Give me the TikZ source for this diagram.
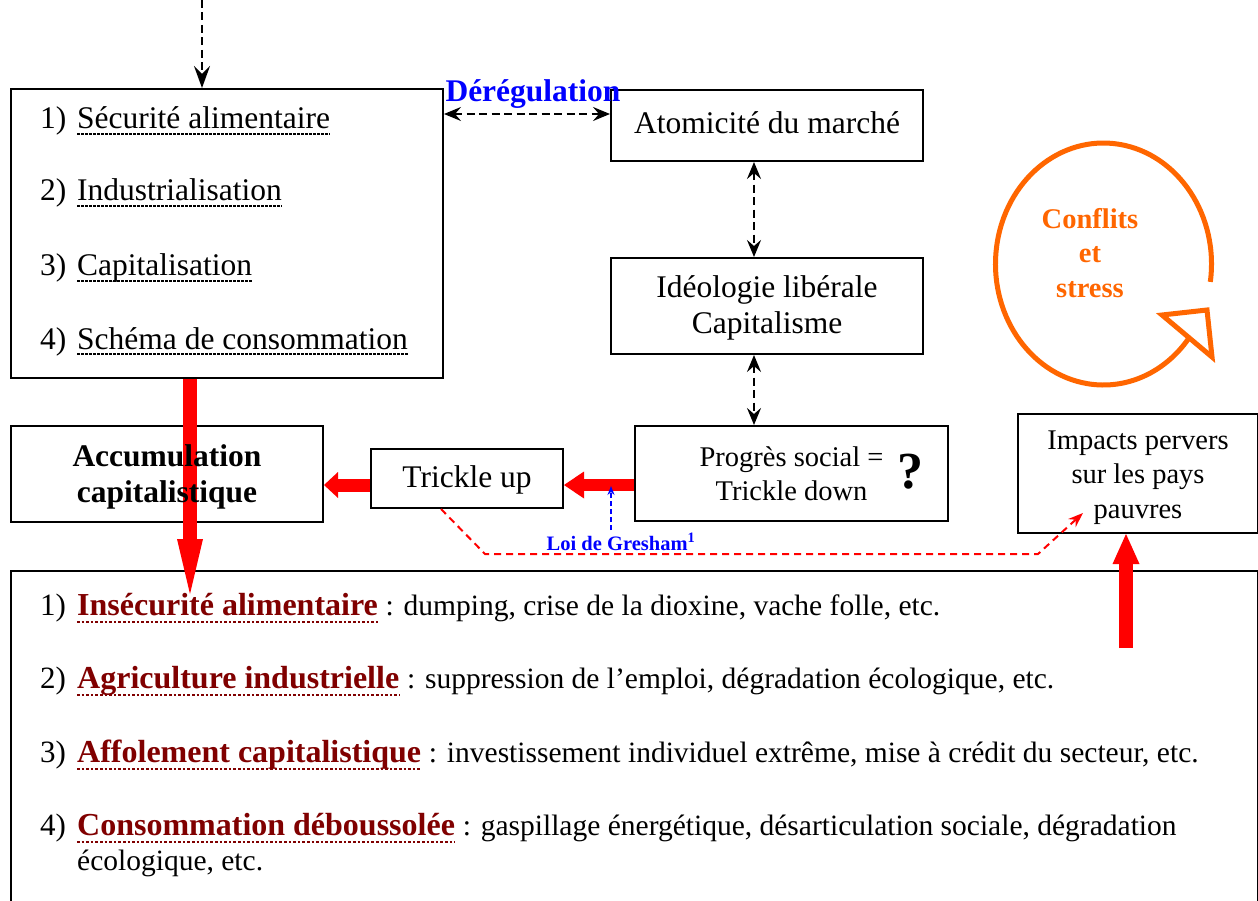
\documentclass[tikz,border=0pt]{standalone}
\usepackage{fontspec}
\setmainfont{Liberation Serif}
\usetikzlibrary{arrows.meta}
\definecolor{dred}{RGB}{128,0,0}
\definecolor{orng}{RGB}{255,102,0}
\definecolor{blu}{RGB}{0,0,255}
\definecolor{rd}{RGB}{255,0,0}
\begin{document}
\begin{tikzpicture}[x=1pt,y=-1pt,
  box/.style={draw, line width=2pt, inner sep=0pt, anchor=north west},
  fm/.style={font=\fontsize{31.5}{36}\selectfont},
  fb/.style={font=\bfseries\fontsize{31.5}{36}\selectfont},
  fgb/.style={font=\bfseries\fontsize{32}{36}\selectfont},
  fs/.style={font=\fontsize{28.5}{34.5}\selectfont},
  fg/.style={font=\fontsize{29.5}{34}\selectfont},
  itm/.style={inner sep=0pt, anchor=base west},
  uline/.style={line width=1.2pt, dash pattern=on 2.5pt off 1.5pt},
  rline/.style={dred, line width=2.6pt, dash pattern=on 2.6pt off 2pt},
  darrow/.style={line width=2pt, dash pattern=on 8pt off 4.5pt},
  redarrow/.style={rd, line width=#1},
]
\useasboundingbox (0,0) rectangle (1258,901);
\fill[white] (0,0) rectangle (1258,901);

% boxes
\node[box, minimum width=432pt, minimum height=289pt] (A) at (10,88) {};
\node[box, minimum width=312pt, minimum height=71pt] (B) at (610,89) {};
\node[box, minimum width=312pt, minimum height=96pt] (C) at (610,257) {};
\node[box, minimum width=313pt, minimum height=95pt] (D) at (634,425) {};
\node[box, minimum width=192pt, minimum height=59pt] (E) at (370,448) {};
\node[box, minimum width=312pt, minimum height=96pt] (F) at (10,425) {};
\node[box, minimum width=240pt, minimum height=119pt] (H) at (1017,413) {};
\node[box, minimum width=1247pt, minimum height=350pt] (G) at (10,570) {};

% box texts
\node[inner sep=0pt, fm] (Bt) at ([yshift=3pt]B.center) {Atomicité du marché};
\node[inner sep=0pt, fm, align=center] (Ct) at ([yshift=-2pt]C.center) {Idéologie libérale\\Capitalisme};
\node[inner sep=0pt, fs, align=center] (Dt) at (D.center) {Progrès social =\\Trickle down};
\node[inner sep=0pt, fm] (Et) at ([yshift=-1pt]E.center) {Trickle up};
\node[inner sep=0pt, fs, align=center] (Ht) at ([yshift=-4pt]H.center) {Impacts pervers\\sur les pays\\pauvres};

% question mark
\node[inner sep=0pt, anchor=base, font=\bfseries\fontsize{52}{56}\selectfont] (q) at (910,488) {?};

% list in A
\node[itm, fm] (a1n) at (40,129) {1)};
\node[itm, fm] (a1) at (77,129) {Sécurité alimentaire};
\node[itm, fm] (a2n) at (40,201) {2)};
\node[itm, fm] (a2) at (77,201) {Industrialisation};
\node[itm, fm] (a3n) at (40,276) {3)};
\node[itm, fm] (a3) at (77,276) {Capitalisation};
\node[itm, fm] (a4n) at (40,349) {4)};
\node[itm, fm] (a4) at (77,349) {Schéma de consommation};
\foreach \n in {a1,a2,a3,a4}
  \draw[uline] ([yshift=-5pt]\n.base west) -- ([yshift=-5pt]\n.base east);

% Dérégulation
\node[inner sep=0pt, anchor=base, font=\bfseries\fontsize{31.5}{36}\selectfont, text=blu] (dereg) at (533,102) {Dérégulation};

% dashed black arrows
\coordinate (top) at (202,0);
\coordinate (dy) at (0,114);
\coordinate (vx) at (754,0);
\draw[darrow, -{Stealth[length=22pt,width=16pt,inset=8pt]}] (top) -- (top |- A.north);
\draw[darrow, {Stealth[length=17pt,width=14pt,inset=6pt]}-{Stealth[length=17pt,width=14pt,inset=6pt]}] (A.east |- dy) -- (B.west |- dy);
\draw[darrow, {Stealth[length=17pt,width=14pt,inset=6pt]}-{Stealth[length=17pt,width=14pt,inset=6pt]}] (vx |- B.south) -- (vx |- C.north);
\draw[darrow, {Stealth[length=17pt,width=14pt,inset=6pt]}-{Stealth[length=17pt,width=14pt,inset=6pt]}] (vx |- C.south) -- (vx |- D.north);

% red arrows
\coordinate (ry) at (0,485);
\coordinate (bx) at (190,0);
\coordinate (gtip) at (190,594);
\coordinate (hx) at (1126,648);
\draw[redarrow=14pt, -{Triangle[length=55pt,width=26pt,line width=0pt]}] (bx |- A.south) -- (gtip);
\draw[redarrow=12pt, -{Triangle[length=20pt,width=27pt,line width=0pt]}] (D.west |- ry) -- (E.east |- ry);
\draw[redarrow=13pt, -{Triangle[length=14pt,width=26pt,line width=0pt]}] (E.west |- ry) -- (F.east |- ry);
\draw[redarrow=14pt, -{Triangle[length=30pt,width=27pt,line width=0pt]}] (hx) -- (hx |- H.south);

% F text on top of red arrow
\node[inner sep=0pt, fb, align=center] (Ft) at ([yshift=-3pt]F.center) {Accumulation\\capitalistique};

% blue Gresham arrow
\coordinate (gb) at (611,530);
\coordinate (gt) at (611,486);
\draw[blu, line width=1.5pt, dash pattern=on 5pt off 3pt, -{Stealth[length=9pt,width=7pt,inset=3pt]}] (gb) -- (gt);
\node[inner sep=0pt, text=blu, font=\bfseries\fontsize{20.5}{23}\selectfont] (gresham) at (621,542) {Loi de Gresham\textsuperscript{1}};

% red dashed
\coordinate (rtip) at (1083,513);
\draw[rd, line width=2pt, dash pattern=on 7pt off 5pt, -{Stealth[length=15pt,width=11pt,inset=5pt]}] ([xshift=-26pt]E.south) -- (485,554) -- (1038,554) -- (rtip);

% conflits cycle
\draw[orng, line width=5pt] (1210.3,281.9) arc[start angle=8.5, end angle=-322, x radius=108, y radius=121];
\draw[orng, line width=5pt, fill=white, line join=miter] (1162,315) -- (1207,310) -- (1212,357) -- cycle;
\node[inner sep=0pt, align=center, text=orng, font=\bfseries\fontsize{28.5}{34.5}\selectfont] (conf) at (1090,253) {Conflits\\et\\stress};

% list in G
\node[itm, font=\fontsize{31}{36}\selectfont] (g1n) at (40,615) {1)};
\node[itm, fgb, text=dred] (g1) at (77,615) {Insécurité alimentaire};
\node[itm, fg] (g1r) at (g1.base east) {\ : dumping, crise de la dioxine, vache folle, etc.};
\node[itm, font=\fontsize{31}{36}\selectfont] (g2n) at (40,688) {2)};
\node[itm, fgb, text=dred] (g2) at (77,688) {Agriculture industrielle};
\node[itm, fg] (g2r) at (g2.base east) {\ : suppression de l’emploi, dégradation écologique, etc.};
\node[itm, font=\fontsize{31}{36}\selectfont] (g3n) at (40,762) {3)};
\node[itm, fgb, text=dred] (g3) at (77,762) {Affolement capitalistique};
\node[itm, fg] (g3r) at (g3.base east) {\ : investissement individuel extrême, mise à crédit du secteur, etc.};
\node[itm, font=\fontsize{31}{36}\selectfont] (g4n) at (40,835) {4)};
\node[itm, fgb, text=dred] (g4) at (77,835) {Consommation déboussolée};
\node[itm, fg] (g4r) at (g4.base east) {\ : gaspillage énergétique, désarticulation sociale, dégradation};
\node[itm, fg] (g5) at (77,870) {écologique, etc.};
\foreach \n in {g1,g2,g3,g4}
  \draw[rline] ([yshift=-7pt]\n.base west) -- ([yshift=-7pt]\n.base east);
\end{tikzpicture}
\end{document}
